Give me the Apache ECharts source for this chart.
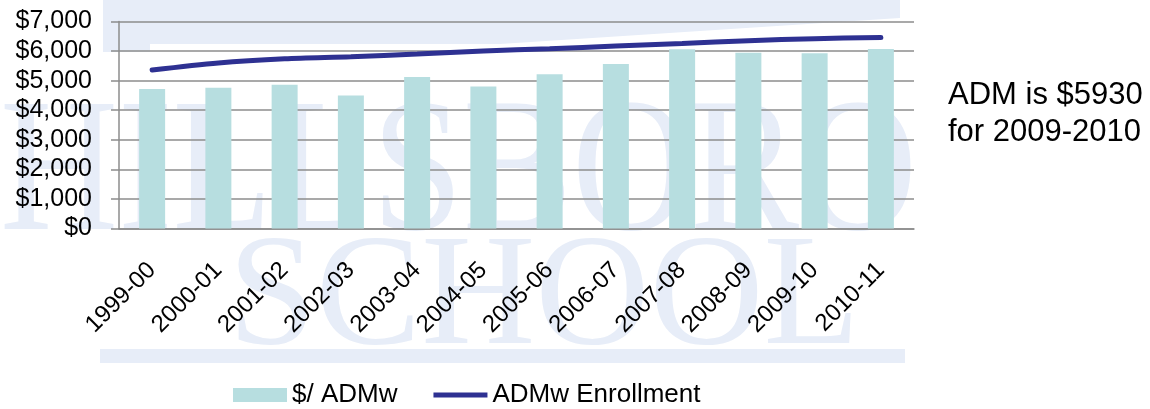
<!DOCTYPE html>
<html>
<head>
<meta charset="utf-8">
<script src="https://cdn.jsdelivr.net/npm/echarts@6/dist/echarts.min.js"></script>
<style>
  html, body { margin: 0; padding: 0; background: #fff; }
  #chart { width: 1150px; height: 409px; }
</style>
</head>
<body>
<div id="chart"></div>
<script>
// years on the x axis
const years = ['1999-00', '2000-01', '2001-02', '2002-03', '2003-04', '2004-05',
  '2005-06', '2006-07', '2007-08', '2008-09', '2009-10', '2010-11']
// $ per ADMw (bars)
const dollarsPerAdmw = [4720, 4760, 4860, 4500, 5120, 4800, 5220, 5560, 6060, 5940, 5930, 6070]
// ADMw enrollment (line, drawn on the same scale)
const admwEnrollment = [5360, 5600, 5740, 5810, 5900, 6000, 6080, 6170, 6260, 6350, 6420, 6460]
const yTicks = [0, 1000, 2000, 3000, 4000, 5000, 6000, 7000]
const noteLines = ['ADM is $5930', 'for 2009-2010']

const font = '"Liberation Sans", Arial, sans-serif'
const serif = '"Liberation Serif", "DejaVu Serif", serif'
const gridColor = '#8c8c8c'
const watermark = '#e7edf8'

const chart = echarts.init(document.getElementById('chart'))
chart.setOption({
  animation: false,
  grid: { left: 119, right: 236, top: 21.5, bottom: 180.5 },
  xAxis: [
    {
      type: 'category',
      data: years,
      axisLine: { lineStyle: { color: gridColor, width: 1.5 } },
      axisTick: { length: 7, lineStyle: { color: gridColor, width: 1.5 } },
      axisLabel: { show: false }
    },
    {
      // label-only copy of the category axis, pushed lower
      type: 'category',
      data: years,
      position: 'bottom',
      offset: 24,
      axisLine: { show: false },
      axisTick: { show: false },
      axisLabel: {
        rotate: 45,
        margin: 14,
        interval: 0,
        color: '#000',
        fontSize: 24,
        fontFamily: font
      }
    }
  ],
  yAxis: {
    type: 'value',
    min: yTicks[0],
    max: yTicks[yTicks.length - 1],
    interval: 1000,
    axisLine: { show: true, lineStyle: { color: gridColor, width: 1.5 } },
    axisTick: { show: true, length: 8, lineStyle: { color: gridColor, width: 1.5 } },
    splitLine: { lineStyle: { color: gridColor, width: 1.5 } },
    axisLabel: {
      margin: 27,
      color: '#000',
      fontSize: 25,
      fontFamily: font,
      formatter: v => '$' + v.toLocaleString('en-US')
    }
  },
  legend: {
    top: 377,
    left: 228,
    itemWidth: 54,
    itemHeight: 14,
    itemGap: 36,
    textStyle: { fontSize: 26, fontFamily: font, color: '#000' },
    data: [
      { name: '$/ ADMw', icon: 'rect' },
      { name: 'ADMw Enrollment', icon: 'path://M0,0 L56,0 L56,5 L0,5 Z' }
    ]
  },
  graphic: [
    // faint school logo behind the chart
    {
      type: 'polygon', z: -10, silent: true,
      shape: { points: [[103, 0], [900, 0], [900, 18], [500, 44], [150, 44], [150, 52], [103, 52]] },
      style: { fill: watermark }
    },
    {
      type: 'text', left: 0, top: 84, z: -10, silent: true, scaleX: 0.86,
      style: { text: 'HILLSBORO', fill: watermark, fontSize: 190, fontFamily: serif }
    },
    {
      type: 'text', left: 228, top: 222, z: -10, silent: true,
      style: { text: 'SCHOOL', fill: watermark, fontSize: 158, fontFamily: serif }
    },
    {
      type: 'rect', z: -10, silent: true,
      shape: { x: 100, y: 349, width: 805, height: 14 },
      style: { fill: watermark }
    },
    {
      type: 'text', left: 948, top: 77, silent: true,
      style: { text: noteLines.join('\n'), fill: '#000', fontSize: 31, lineHeight: 37, fontFamily: font }
    }
  ],
  series: [
    {
      name: '$/ ADMw',
      type: 'bar',
      data: dollarsPerAdmw,
      barWidth: 26,
      itemStyle: { color: '#b7dee0' }
    },
    {
      name: 'ADMw Enrollment',
      type: 'line',
      data: admwEnrollment,
      smooth: 0.3,
      symbol: 'none',
      z: 5,
      itemStyle: { color: '#2e3192' },
      lineStyle: { color: '#2e3192', width: 5, cap: 'round' }
    }
  ]
})
</script>
</body>
</html>
